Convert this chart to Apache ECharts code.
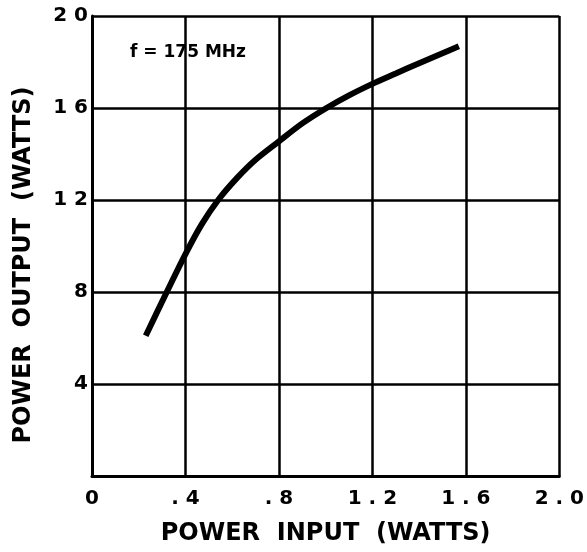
<!DOCTYPE html>
<html>
<head>
<meta charset="utf-8">
<script src="https://cdn.jsdelivr.net/npm/echarts@6/dist/echarts.min.js"></script>
<style>
  html, body { margin: 0; padding: 0; background: #fff; }
  #chart { width: 587px; height: 552px; }
</style>
</head>
<body>
<div id="chart"></div>
<script>
// curve
var inputW  = [0.23, 0.32, 0.40, 0.47, 0.54, 0.62, 0.70, 0.80, 0.90, 1.00, 1.10, 1.20, 1.30, 1.40, 1.50, 1.57];
var outputW = [6.1, 8.0, 9.65, 10.95, 12.0, 12.95, 13.75, 14.55, 15.33, 15.98, 16.55, 17.05, 17.5, 17.95, 18.38, 18.68];

var xTickLabels = ['0', '. 4', '. 8', '1 . 2', '1 . 6', '2 . 0'];
var yTickLabels = ['', '4', '8', '1 2', '1 6', '2 0'];

var note = 'f = 175 MHz';

var myChart = echarts.init(document.getElementById('chart'));

var points = inputW.map(function (x, i) { return [x, outputW[i]]; });

var boldFont = 'DejaVu Sans';

var option = {
    backgroundColor: '#fff',
    animation: false,
    grid: { left: 92, right: 27, top: 16, bottom: 76 },
    xAxis: {
        type: 'value',
        min: 0,
        max: 2,
        interval: 0.4,
        name: 'POWER  INPUT  (WATTS)',
        nameLocation: 'middle',
        nameGap: 46,
        nameTextStyle: { color: '#000', fontFamily: boldFont, fontWeight: 'bold', fontSize: 24 },
        axisLine: { lineStyle: { color: '#000', width: 3 } },
        axisTick: { show: false },
        axisLabel: {
            color: '#000', fontFamily: boldFont, fontWeight: 'bold', fontSize: 20, margin: 13,
            formatter: function (v, i) { return xTickLabels[i]; }
        },
        splitLine: { show: true, lineStyle: { color: '#000', width: 2.5 } }
    },
    yAxis: {
        type: 'value',
        min: 0,
        max: 20,
        interval: 4,
        name: 'POWER  OUTPUT  (WATTS)',
        nameLocation: 'middle',
        nameGap: 56,
        nameTextStyle: {
            color: '#000', fontFamily: boldFont, fontWeight: 'bold', fontSize: 24,
            padding: [0, 38, 0, 0]
        },
        axisLine: { show: true, lineStyle: { color: '#000', width: 3 } },
        axisTick: { show: false },
        axisLabel: {
            color: '#000', fontFamily: boldFont, fontWeight: 'bold', fontSize: 20, margin: 4,
            formatter: function (v, i) { return yTickLabels[i]; }
        },
        splitLine: { show: true, lineStyle: { color: '#000', width: 2.5 } }
    },
    graphic: [{
        type: 'text',
        left: 130,
        top: 44,
        style: { text: note, fill: '#000', font: 'bold 17px "DejaVu Sans"' }
    }],
    series: [{
        type: 'line',
        data: points,
        smooth: 0.3,
        showSymbol: false,
        lineStyle: { color: '#000', width: 6 }
    }]
};

myChart.setOption(option);
</script>
</body>
</html>
